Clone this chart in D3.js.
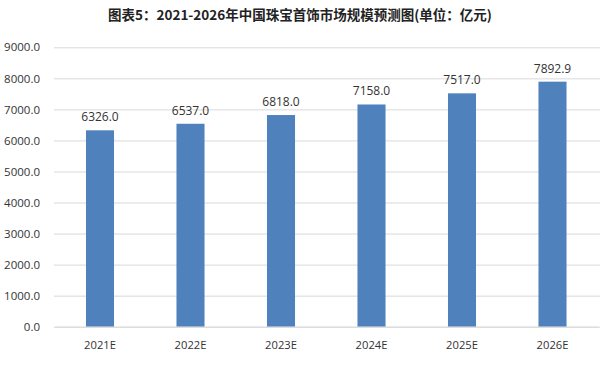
<!DOCTYPE html>
<html><head><meta charset="utf-8">
<script src="https://cdn.jsdelivr.net/npm/d3@7"></script>
<style>body{margin:0;background:#fff}svg{display:block}</style>
</head><body>
<svg id="c" width="600" height="366"></svg>
<script>
const title = "图表5：2021-2026年中国珠宝首饰市场规模预测图(单位：亿元)";
const categories = ["2021E","2022E","2023E","2024E","2025E","2026E"];
const values = [6326.0, 6537.0, 6818.0, 7158.0, 7517.0, 7892.9];
const yTicks = [0,1000,2000,3000,4000,5000,6000,7000,8000,9000];

const svg = d3.select("#c");
const x = d3.scaleBand().domain(categories).range([54.75, 597.75]).paddingInner(0.69).paddingOuter(0.345);
const y = d3.scaleLinear().domain([0, 9000]).range([326.7, 47.3]);

svg.append("text").attr("x", 300).attr("y", 20).attr("text-anchor","middle")
  .attr("font-family","'Noto Sans CJK SC', sans-serif").attr("font-weight","bold")
  .attr("font-size",13.5).attr("fill","#222").text(title);

const gy = svg.append("g").attr("transform","translate(54,0)")
  .call(d3.axisLeft(y).tickValues(yTicks).tickFormat(d3.format(".1f")).tickSize(-546).tickPadding(14));
gy.select(".domain").remove();
gy.selectAll(".tick line").attr("stroke","#d9d9d9");
gy.selectAll(".tick text").attr("font-family","'Open Sans', sans-serif").attr("font-size",11.5).attr("fill","#333");

svg.selectAll("rect.bar").data(values).join("rect").attr("class","bar")
  .attr("x",(d,i)=>x(categories[i])).attr("width",x.bandwidth())
  .attr("y",d=>y(d)).attr("height",d=>y(0)-y(d)).attr("fill","#4f81bd");

svg.selectAll("text.lbl").data(values).join("text").attr("class","lbl")
  .attr("x",(d,i)=>x(categories[i])+x.bandwidth()/2).attr("y",d=>y(d)-9)
  .attr("text-anchor","middle").attr("font-family","'Open Sans', sans-serif")
  .attr("font-size",12).attr("fill","#333").text(d=>d.toFixed(1));

const gx = svg.append("g").attr("transform",`translate(0,${y(0)})`)
  .call(d3.axisBottom(x).tickSize(0).tickPadding(14));
gx.select(".domain").attr("stroke","#d9d9d9");
gx.selectAll(".tick text").attr("font-family","'Open Sans', sans-serif").attr("font-size",11.2).attr("fill","#333");
</script>
</body></html>
